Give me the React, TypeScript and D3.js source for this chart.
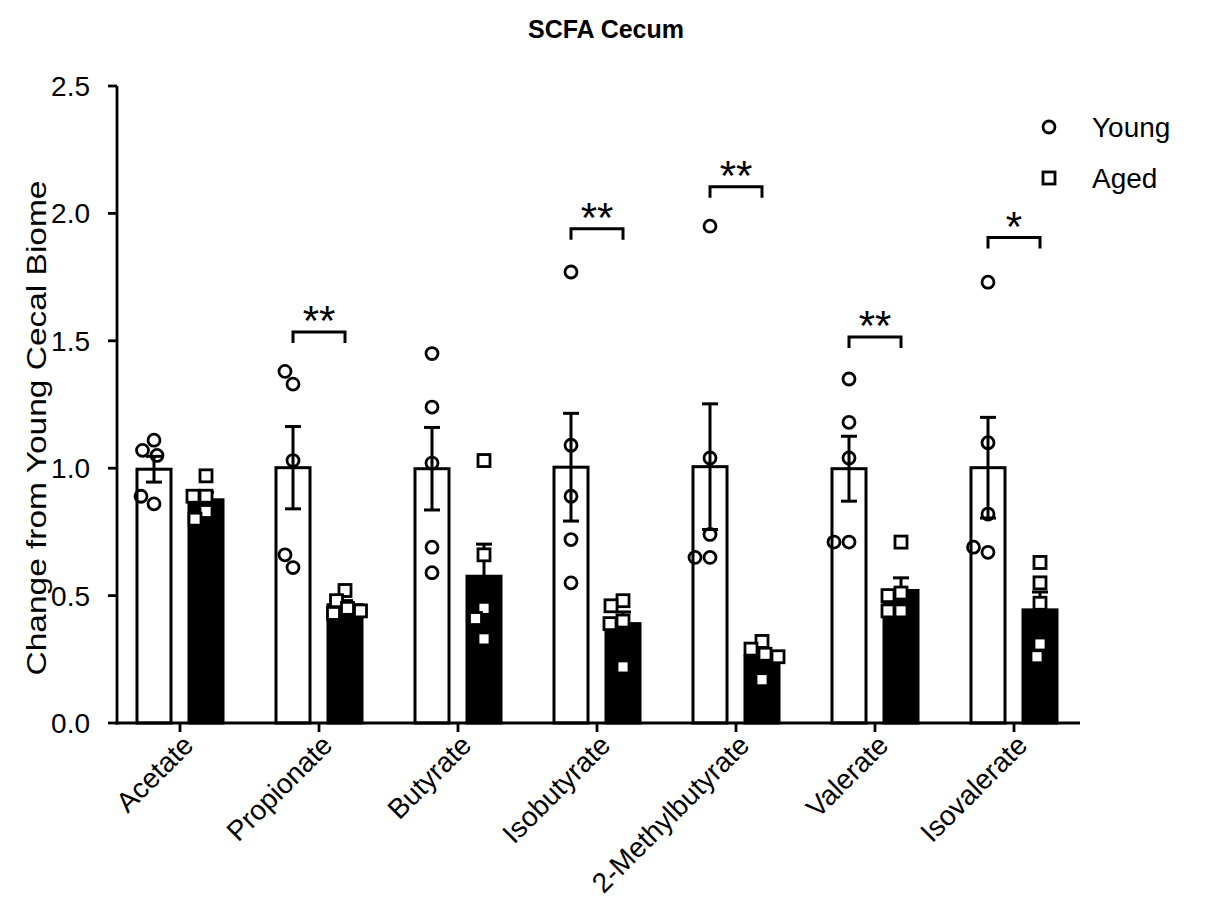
import React from 'react'
import * as d3 from 'd3'

const categories = ['Acetate', 'Propionate', 'Butyrate', 'Isobutyrate', '2-Methylbutyrate', 'Valerate', 'Isovalerate']
const groups = ['Young', 'Aged']

const youngValues = [
  [1.11, 1.07, 1.05, 0.86, 0.89],
  [1.33, 1.38, 1.03, 0.61, 0.66],
  [1.45, 1.24, 1.02, 0.69, 0.59],
  [1.77, 1.09, 0.89, 0.72, 0.55],
  [1.95, 1.04, 0.74, 0.65, 0.65],
  [1.35, 1.18, 1.04, 0.71, 0.71],
  [1.73, 1.10, 0.82, 0.67, 0.69],
]
const agedValues = [
  [0.97, 0.89, 0.89, 0.83, 0.80],
  [0.52, 0.48, 0.45, 0.44, 0.43],
  [1.03, 0.66, 0.45, 0.41, 0.33],
  [0.48, 0.46, 0.40, 0.39, 0.22],
  [0.32, 0.29, 0.27, 0.26, 0.17],
  [0.71, 0.51, 0.50, 0.44, 0.44],
  [0.63, 0.55, 0.47, 0.31, 0.26],
]
const sigLabels = ['', '**', '', '**', '**', '**', '*']
const sigHeights = [null, 1.535, null, 1.94, 2.105, 1.515, 1.905]
const yTicks = [0, 0.5, 1.0, 1.5, 2.0, 2.5]

const font = 'Liberation Sans, Arial, sans-serif'

// simple beeswarm: shift points sideways until they stop overlapping
function swarm(vals: number[], y: (v: number) => number, minDist: number) {
  const placed: { x: number; y: number }[] = []
  return vals.map(v => {
    const py = y(v)
    let best = 0
    for (let k = 0; k < 400; k++) {
      const c = k === 0 ? 0 : (k % 2 ? -1 : 1) * Math.ceil(k / 2) * 0.5
      if (placed.every(p => Math.hypot(p.x - c, p.y - py) >= minDist)) { best = c; break }
    }
    placed.push({ x: best, y: py })
    return best
  })
}

export default function App() {
  const width = 1212, height = 922
  const y = d3.scaleLinear().domain([0, 2.5]).range([723, 86])
  const x = d3.scalePoint().domain(categories).range([180, 1014])
  const inner = d3.scaleBand().domain(groups).range([-52, 52]).paddingInner(0.346).paddingOuter(0.173)
  const bw = inner.bandwidth()
  const axisLeft = 117, axisRight = 1080
  const sw = 3

  const sem = (v: number[]) => (d3.deviation(v) || 0) / Math.sqrt(v.length)

  return (
    <svg width={width} height={height} style={{ display: 'block', position: 'absolute', left: 0, top: 0 }} fontFamily={font}>
      <rect width={width} height={height} fill="#fff" />
      <text x={606} y={38} textAnchor="middle" fontWeight="bold" fontSize={25}>SCFA Cecum</text>

      {/* y axis */}
      <line x1={axisLeft} x2={axisLeft} y1={y(2.5)} y2={y(0) + 1.5} stroke="#000" strokeWidth={2.8} />
      {yTicks.map(t => (
        <g key={t}>
          <line x1={axisLeft - 9} x2={axisLeft} y1={y(t)} y2={y(t)} stroke="#000" strokeWidth={2.8} />
          <text x={axisLeft - 27} y={y(t)} dy="0.36em" textAnchor="end" fontSize={28}>{d3.format('.1f')(t)}</text>
        </g>
      ))}
      <text transform={`translate(46,428) rotate(-90)`} textAnchor="middle" fontSize={28}
        textLength={495} lengthAdjust="spacingAndGlyphs">
        Change from Young Cecal Biome
      </text>

      {/* bars, error bars, points */}
      {categories.map((c, i) => {
        const cx = x(c) as number
        return (
          <g key={c}>
            {[youngValues[i], agedValues[i]].map((vals, g) => {
              const gx = cx + (inner(groups[g]) as number) + bw / 2
              const m = d3.mean(vals) as number
              const e = sem(vals)
              const offs = swarm(vals, y, g === 0 ? 15 : 13)
              return (
                <g key={g}>
                  <rect x={gx - bw / 2} y={y(m)} width={bw} height={y(0) - y(m)}
                    fill={g === 0 ? '#fff' : '#000'} stroke="#000" strokeWidth={sw} />
                  <line x1={gx} x2={gx} y1={y(m + e)} y2={y(m - e)} stroke="#000" strokeWidth={sw} />
                  <line x1={gx - 8} x2={gx + 8} y1={y(m + e)} y2={y(m + e)} stroke="#000" strokeWidth={sw} />
                  <line x1={gx - 8} x2={gx + 8} y1={y(m - e)} y2={y(m - e)} stroke="#000" strokeWidth={sw} />
                  {vals.map((v, k) => g === 0 ? (
                    <circle key={k} cx={gx + offs[k]} cy={y(v)} r={6} fill="none" stroke="#000" strokeWidth={2.8} />
                  ) : (
                    <rect key={k} x={gx + offs[k] - 6} y={y(v) - 6} width={12} height={12} fill="#fff" stroke="#000" strokeWidth={2.8} />
                  ))}
                </g>
              )
            })}
            {sigHeights[i] != null && (() => {
              const x1 = cx + (inner('Young') as number) + bw / 2
              const x2 = cx + (inner('Aged') as number) + bw / 2
              const by = y(sigHeights[i] as number)
              return (
                <g>
                  <path d={`M${x1},${by + 11}V${by}H${x2}V${by + 11}`} fill="none" stroke="#000" strokeWidth={sw} />
                  <text x={(x1 + x2) / 2} y={by + 3} textAnchor="middle" fontSize={42}>{sigLabels[i]}</text>
                </g>
              )
            })()}
          </g>
        )
      })}

      {/* x axis */}
      <line x1={axisLeft - 1.4} x2={axisRight} y1={y(0)} y2={y(0)} stroke="#000" strokeWidth={2.8} />
      {categories.map(c => {
        const cx = x(c) as number
        return (
          <g key={c}>
            <line x1={cx} x2={cx} y1={y(0)} y2={y(0) + 9} stroke="#000" strokeWidth={2.8} />
            <text transform={`translate(${cx + 8},${y(0) + 17}) rotate(-45)`} textAnchor="end" dy="0.35em" fontSize={28}>{c}</text>
          </g>
        )
      })}

      {/* legend */}
      <circle cx={1049} cy={127} r={6} fill="none" stroke="#000" strokeWidth={2.8} />
      <text x={1092} y={127} dy="0.36em" fontSize={28}>Young</text>
      <rect x={1043} y={172} width={12} height={12} fill="#fff" stroke="#000" strokeWidth={2.8} />
      <text x={1092} y={178} dy="0.36em" fontSize={28}>Aged</text>
    </svg>
  )
}
